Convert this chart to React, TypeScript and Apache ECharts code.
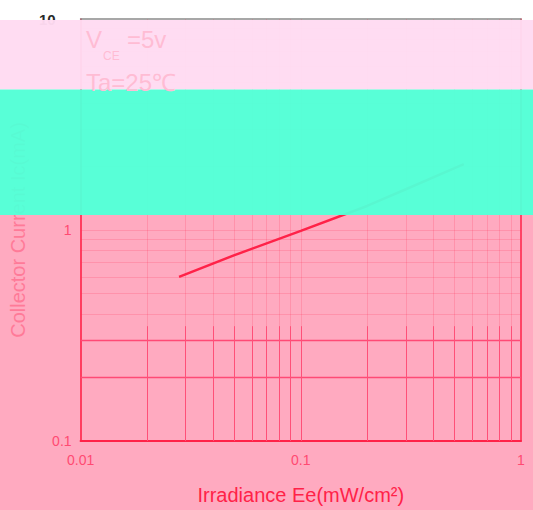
import React, { useEffect, useRef } from "react";
import * as echarts from "echarts";

// ---- data ----
const irradiance = [0.028, 0.05, 0.1, 0.2, 0.3, 0.55];
const collectorCurrent = [0.6, 0.76, 0.99, 1.3, 1.56, 2.05];

const xRange = [0.01, 1];
const yRange = [0.1, 10];
const xTickLabels = ["0.01", "0.1", "1"];
const yTickLabels = ["0.1", "1", "10"];

const xGrid = [0.02, 0.03, 0.04, 0.05, 0.06, 0.07, 0.08, 0.09, 0.1, 0.2, 0.3, 0.4, 0.5, 0.6, 0.7, 0.8, 0.9];
const yGrid = [0.2, 0.3, 0.4, 0.5, 0.6, 0.7, 0.8, 0.9, 1, 2, 3, 4, 5, 6, 7, 8, 9];
const yStrongGrid = [0.2, 0.3];
const lowerGridBand = [0.1, 0.35];

const xTitle = "Irradiance Ee(mW/cm²)";
const yTitle = "Collector Current Ic(mA)";

const RED = "#FF2248";
const LABEL_RED = "#FF4A72";
const FONT = "'Liberation Sans', Arial, sans-serif";
const BAND_TEXT = "#FFBCD4";

export default function App() {
  const ref = useRef<HTMLDivElement>(null);

  useEffect(() => {
    if (!ref.current) return;
    const chart = echarts.init(ref.current, undefined, { renderer: "svg" });

    const faint = { color: "rgba(255,50,90,0.2)", width: 1, type: "solid" };
    const strongV = { color: "#FF5078", width: 1, type: "solid" };
    const strongH = { color: "#FF4A75", width: 1.3, type: "solid" };

    const gridLines: any[] = [
      ...xGrid.map((v) => ({ xAxis: v, lineStyle: faint })),
      ...yGrid.map((v) => ({ yAxis: v, lineStyle: faint })),
      ...yStrongGrid.map((v) => ({ yAxis: v, lineStyle: strongH })),
      ...xGrid.map((v) => [
        { coord: [v, lowerGridBand[0]], lineStyle: strongV },
        { coord: [v, lowerGridBand[1]] },
      ]),
    ];

    const xFmt = (v: number) => {
      const i = Math.round(Math.log10(v) - Math.log10(xRange[0]));
      return xTickLabels[i] ?? "";
    };
    const yFmt = (v: number) => {
      const i = Math.round(Math.log10(v) - Math.log10(yRange[0]));
      const t = yTickLabels[i] ?? "";
      return i === yTickLabels.length - 1 ? `{top|${t}}` : `{n|${t}}`;
    };

    chart.setOption({
      animation: false,
      backgroundColor: "transparent",
      textStyle: { fontFamily: FONT },
      grid: { left: 77.5, right: 12, top: 19, bottom: 67 },
      xAxis: [
        {
          type: "log",
          logBase: 10,
          min: xRange[0],
          max: xRange[1],
          position: "bottom",
          axisLine: { show: true, lineStyle: { color: RED, width: 2 } },
          axisTick: { show: false },
          splitLine: { show: false },
          axisLabel: { formatter: xFmt, color: LABEL_RED, fontSize: 14, margin: 12, fontFamily: FONT },
          name: xTitle,
          nameLocation: "middle",
          nameGap: 44,
          nameTextStyle: { fontSize: 20, color: RED, fontFamily: FONT },
        },
        {
          type: "log",
          logBase: 10,
          min: xRange[0],
          max: xRange[1],
          position: "top",
          axisLine: { show: true, lineStyle: { color: "#8a8a8a", width: 1.5 } },
          axisTick: { show: false },
          axisLabel: { show: false },
          splitLine: { show: false },
        },
      ],
      yAxis: [
        {
          type: "log",
          logBase: 10,
          min: yRange[0],
          max: yRange[1],
          position: "left",
          axisLine: { show: true, lineStyle: { color: RED, width: 1.6 } },
          axisTick: { show: false },
          splitLine: { show: false },
          axisLabel: {
            formatter: yFmt,
            margin: 9,
            fontSize: 14,
            fontFamily: FONT,
            rich: {
              n: { color: LABEL_RED, fontSize: 14, fontFamily: FONT },
              top: { color: "#2a2a2a", fontSize: 15, fontWeight: "bold", fontFamily: FONT, padding: [0, 16, 0, 0] },
            },
          },
          name: yTitle,
          nameLocation: "middle",
          nameGap: 45,
          nameTextStyle: { fontSize: 20, color: "#FF7A98", fontFamily: FONT },
        },
        {
          type: "log",
          logBase: 10,
          min: yRange[0],
          max: yRange[1],
          position: "right",
          axisLine: { show: true, lineStyle: { color: RED, width: 1.5 } },
          axisTick: { show: false },
          axisLabel: { show: false },
          splitLine: { show: false },
        },
      ],
      series: [
        {
          type: "line",
          data: [],
          z: 1,
          silent: true,
          markLine: {
            silent: true,
            symbol: ["none", "none"],
            label: { show: false },
            emphasis: { disabled: true },
            data: gridLines,
          },
        },
        {
          type: "line",
          z: 5,
          silent: true,
          showSymbol: false,
          symbol: "none",
          lineStyle: { color: RED, width: 2.5 },
          data: irradiance.map((x, i) => [x, collectorCurrent[i]]),
        },
      ],
      graphic: [
        { type: "rect", z: 100, silent: true, shape: { x: 0, y: 20, width: 533, height: 69.5 }, style: { fill: "#FFDBF2", opacity: 0.97 } },
        { type: "rect", z: 100, silent: true, shape: { x: 0, y: 89.5, width: 533, height: 125.5 }, style: { fill: "#52FFD6", opacity: 0.965 } },
        { type: "text", z: 101, silent: true, x: 86, y: 39, style: { text: "V", fontSize: 24, fontFamily: FONT, fill: BAND_TEXT, verticalAlign: "middle" } },
        { type: "text", z: 101, silent: true, x: 103, y: 56, style: { text: "CE", fontSize: 12, fontFamily: FONT, fill: BAND_TEXT, verticalAlign: "middle" } },
        { type: "text", z: 101, silent: true, x: 127, y: 39, style: { text: "=5v", fontSize: 24, fontFamily: FONT, fill: BAND_TEXT, verticalAlign: "middle" } },
        { type: "text", z: 101, silent: true, x: 86, y: 82, style: { text: "Ta=25℃", fontSize: 24, fontFamily: FONT, fill: BAND_TEXT, verticalAlign: "middle" } },
      ],
    });

    return () => chart.dispose();
  }, []);

  return (
    <div
      style={{
        position: "fixed",
        left: 0,
        top: 0,
        width: 533,
        height: 510,
        background: "linear-gradient(#ffffff 0px, #ffffff 215px, #FFAAC0 215px, #FFAAC0 510px)",
      }}
    >
      <div ref={ref} style={{ width: 533, height: 510 }} />
    </div>
  );
}
